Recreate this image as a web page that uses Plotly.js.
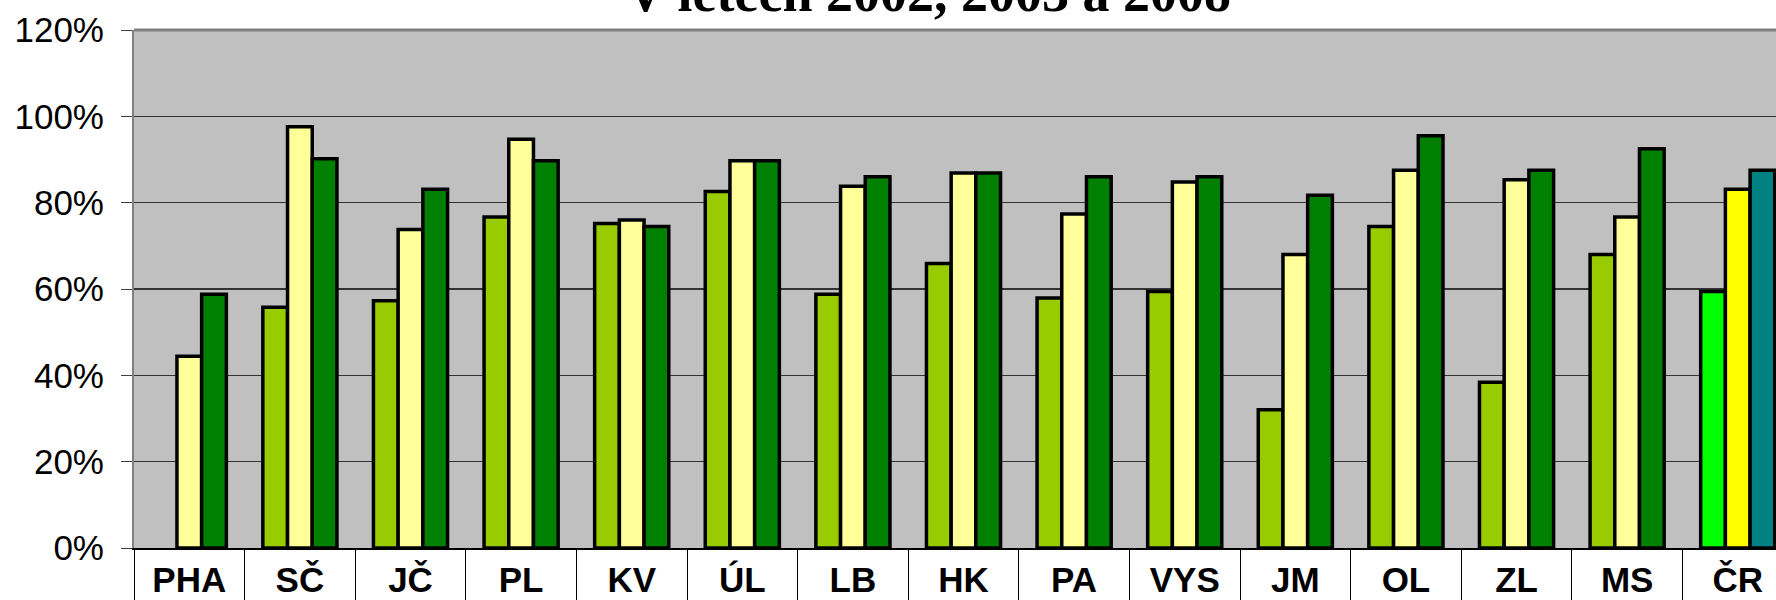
<!DOCTYPE html>
<html>
<head>
<meta charset="utf-8">
<script src="https://cdn.plot.ly/plotly-3.0.1.min.js"></script>
<style>html,body{margin:0;padding:0;background:#fff;}#chart{width:1776px;height:600px;}</style>
</head>
<body>
<div id="chart"></div>
<script>
const categories = ['PHA','SČ','JČ','PL','KV','ÚL','LB','HK','PA','VYS','JM','OL','ZL','MS','ČR'];
const v2002 = [null,55.8,57.3,76.7,75.2,82.6,58.8,65.9,57.9,59.4,32.0,74.5,38.4,68.0,59.4];
const v2003 = [44.4,97.6,73.8,94.7,76.0,89.7,83.8,86.9,77.4,84.8,68.0,87.5,85.3,76.7,83.1];
const v2008 = [58.8,90.2,83.1,89.7,74.5,89.7,86.0,86.9,86.0,86.0,81.7,95.5,87.5,92.5,87.5];
const seriesNames = ['2002','2003','2008'];
const titleText = 'V letech 2002, 2003 a 2008';

const baseColors = ['#99CC00','#FFFF99','#008000'];
const totalColors = ['#00FF00','#FFFF00','#008080'];
const allValues = [v2002, v2003, v2008];

const traces = allValues.map((vals, i) => ({
  type: 'bar',
  name: seriesNames[i],
  x: categories,
  y: vals,
  marker: {
    color: categories.map(c => c === 'ČR' ? totalColors[i] : baseColors[i]),
    line: {color: '#000000', width: 3.5}
  },
  hoverinfo: 'x+y+name'
}));

const layout = {
  width: 1776,
  height: 600,
  paper_bgcolor: '#ffffff',
  plot_bgcolor: '#C0C0C0',
  showlegend: false,
  barmode: 'group',
  bargap: 0.33,
  bargroupgap: 0,
  margin: {l: 134, r: 0, t: 30, b: 52, pad: 0},
  font: {family: 'Liberation Sans, Arial, sans-serif', color: '#000'},
  xaxis: {
    type: 'category',
    range: [-0.5, 14.346],
    showgrid: false,
    showline: true,
    linecolor: '#000000',
    linewidth: 2,
    ticks: 'outside',
    tickson: 'boundaries',
    ticklen: 60,
    tickwidth: 1,
    tickcolor: '#000000',
    ticklabelstandoff: 0,
    tickfont: {family: 'Liberation Sans, Arial, sans-serif', size: 35, weight: 'bold', color: '#000'},
    fixedrange: true
  },
  yaxis: {
    range: [0, 120],
    dtick: 20,
    tick0: 0,
    ticksuffix: '%',
    showgrid: true,
    gridcolor: '#333333',
    gridwidth: 1.5,
    zeroline: false,
    showline: true,
    linecolor: '#808080',
    linewidth: 2,
    ticks: 'outside',
    ticklen: 11,
    tickwidth: 1,
    tickcolor: '#404040',
    ticklabelstandoff: 10,
    tickfont: {family: 'Liberation Sans, Arial, sans-serif', size: 35, color: '#000'},
    fixedrange: true
  },
  shapes: [{
    type: 'line', xref: 'paper', yref: 'paper', x0: 0, x1: 1, y0: 1, y1: 1,
    line: {color: '#808080', width: 3}
  }],
  annotations: [{
    text: '<b>' + titleText + '</b>',
    xref: 'paper', yref: 'paper',
    x: 0.4836, y: 1,
    xanchor: 'center', yanchor: 'bottom',
    yshift: 5,
    showarrow: false,
    font: {family: 'Liberation Serif, Times New Roman, serif', size: 54, color: '#000'}
  }]
};

Plotly.newPlot('chart', traces, layout, {displayModeBar: false, staticPlot: true});
</script>
</body>
</html>
